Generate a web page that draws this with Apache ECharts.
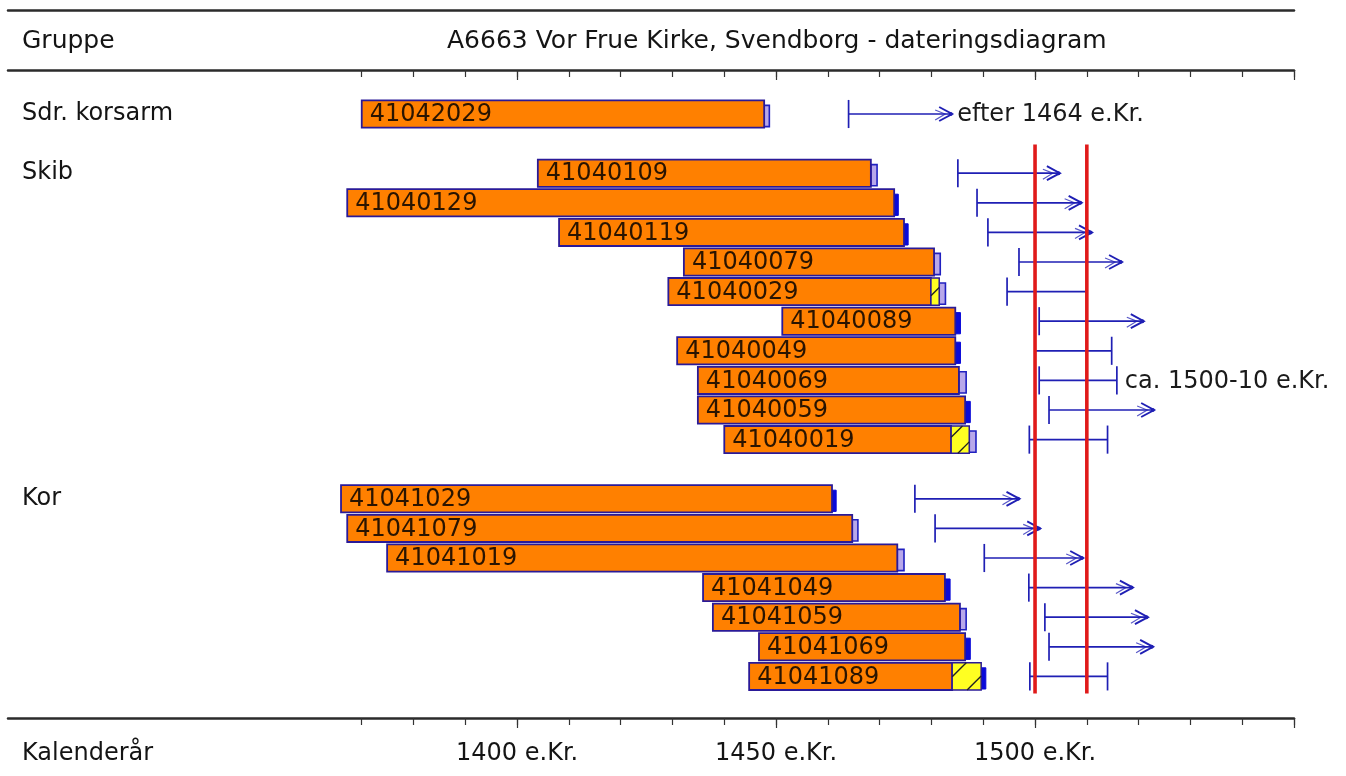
<!DOCTYPE html>
<html>
<head>
<meta charset="utf-8">
<script src="https://cdn.jsdelivr.net/npm/echarts@6/dist/echarts.min.js"></script>
<style>html,body{margin:0;padding:0;background:#fff;}#c{width:1346px;height:776px;}</style>
</head>
<body>
<div id="c"></div>
<script>
// ---- data ----
const rowLabels = ['Sdr. korsarm', '', 'Skib', '', '', '', '', '', '', '', '', '', '', 'Kor', '', '', '', '', '', ''];
const sampleIds = ['41042029', '41040109', '41040129', '41040119', '41040079', '41040029', '41040089', '41040049', '41040069', '41040059', '41040019', '41041029', '41041079', '41041019', '41041049', '41041059', '41041069', '41041089'];
const sampleRows = [0, 2, 3, 4, 5, 6, 7, 8, 9, 10, 11, 13, 14, 15, 16, 17, 18, 19];
const startYears = [1370, 1404, 1367.2, 1408.1, 1432.2, 1429.2, 1451.2, 1430.9, 1434.9, 1434.9, 1440, 1366, 1367.2, 1374.9, 1435.9, 1437.8, 1446.7, 1444.8];
const heartEnd = [1447.7, 1468.3, 1472.8, 1474.7, 1480.5, 1479.9, 1484.6, 1484.6, 1485.3, 1486.5, 1483.8, 1460.8, 1464.7, 1473.4, 1482.6, 1485.5, 1486.5, 1484];
const hatchEnd = [null, null, null, null, null, 1481.5, null, null, null, null, 1487.3, null, null, null, null, null, null, 1489.6];
const capEnd = [1448.7, 1469.5, 1473.6, 1475.5, 1481.7, 1482.7, 1485.6, 1485.6, 1486.7, 1487.5, 1488.6, 1461.6, 1465.8, 1474.7, 1483.6, 1486.7, 1487.5, 1490.5];
const capFilled = [0, 0, 1, 1, 0, 0, 1, 1, 0, 1, 0, 1, 0, 0, 1, 0, 1, 1];
const rangeStart = [1464, 1485.1, 1488.8, 1490.9, 1496.9, 1494.6, 1500.8, 1500, 1500.8, 1502.7, 1498.9, 1476.8, 1480.7, 1490.2, 1498.8, 1501.9, 1502.7, 1499];
const rangeEnd = [1484, 1504.8, 1509, 1511, 1516.8, 1510, 1521, 1514.8, 1515.8, 1523, 1514, 1497, 1501, 1509.3, 1518.9, 1521.8, 1522.8, 1514];
const rangeIsArrow = [1, 1, 1, 1, 1, 0, 1, 0, 0, 1, 0, 1, 1, 1, 1, 1, 1, 0];
const rangeNotes = ['efter 1464 e.Kr.', '', '', '', '', '', '', '', 'ca. 1500-10 e.Kr.', '', '', '', '', '', '', '', '', ''];
const redLines = [1500, 1510];
const redLineFromRow = 1;
const tickYears = [1370, 1380, 1390, 1400, 1410, 1420, 1430, 1440, 1450, 1460, 1470, 1480, 1490, 1500, 1510, 1520, 1530, 1540, 1550];
const majorTickYears = [1400, 1450, 1500, 1550];
const labelYears = [1400, 1450, 1500];
const titleText = 'A6663 Vor Frue Kirke, Svendborg - dateringsdiagram';

// ---- styles ----
const FONT = 'DejaVu Sans';
const ORANGE = '#FF8000';
const BORDER = '#2a1a98';
const BLUE = '#1f1fb4';
const CAPBLUE = '#0a0ad8';
const RED = '#e01a1a';

const barData = sampleIds.map((id, i) => [sampleRows[i], startYears[i], heartEnd[i], hatchEnd[i] || heartEnd[i], capEnd[i], capFilled[i]]);
const rangeData = sampleIds.map((id, i) => [sampleRows[i], rangeStart[i], rangeEnd[i], rangeIsArrow[i]]);
const redData = redLines.map(v => [v, redLineFromRow]);

function renderBar(params, api) {
  const row = api.value(0), s = api.value(1), he = api.value(2), hz = api.value(3), ce = api.value(4), filled = api.value(5);
  const bandH = api.size([0, 1])[1];
  const h = bandH * 0.92;
  const p0 = api.coord([s, row]);
  const xHe = api.coord([he, row])[0];
  const xHz = api.coord([hz, row])[0];
  const xCe = api.coord([ce, row])[0];
  const top = p0[1] - h / 2, bottom = p0[1] + h / 2;
  const children = [];
  children.push({
    type: 'rect',
    shape: { x: xHz, y: top + 5, width: Math.max(xCe - xHz, 2), height: h - 6 },
    style: filled ? { fill: CAPBLUE, stroke: CAPBLUE, lineWidth: 1 } : { fill: '#b8a8ea', stroke: '#2020c0', lineWidth: 1.6 }
  });
  children.push({
    type: 'rect',
    shape: { x: p0[0], y: top, width: xHe - p0[0], height: h },
    style: { fill: ORANGE, stroke: BORDER, lineWidth: 1.8 }
  });
  if (xHz - xHe > 0.5) {
    const w = xHz - xHe;
    children.push({
      type: 'rect',
      shape: { x: xHe, y: top, width: w, height: h },
      style: { fill: '#ffff22', stroke: BORDER, lineWidth: 1.5 }
    });
    const tot = w + h;
    const n = Math.max(1, Math.round(tot / 28));
    for (let k = 0; k < n; k++) {
      const c = (k + 0.5) * tot / n;
      const pA = c <= h ? [xHe, top + c] : [xHe + c - h, bottom];
      const pB = c <= w ? [xHe + c, top] : [xHz, top + c - w];
      children.push({ type: 'line', shape: { x1: pA[0], y1: pA[1], x2: pB[0], y2: pB[1] }, style: { stroke: '#222', lineWidth: 1.4 } });
    }
  }
  children.push({
    type: 'text',
    style: { text: sampleIds[params.dataIndex], x: p0[0] + 8, y: p0[1] + 1, verticalAlign: 'middle', align: 'left', font: '24px "' + FONT + '"', fill: '#2a1400' }
  });
  return { type: 'group', children };
}

function renderRange(params, api) {
  const row = api.value(0), rs = api.value(1), re = api.value(2), isArrow = api.value(3);
  const bandH = api.size([0, 1])[1];
  const a = api.coord([rs, row]);
  const b = api.coord([re, row]);
  const th = bandH * 0.95;
  const st = { stroke: BLUE, lineWidth: 1.7 };
  const children = [
    { type: 'line', shape: { x1: a[0], y1: a[1], x2: b[0], y2: b[1] }, style: st },
    { type: 'line', shape: { x1: a[0], y1: a[1] - th / 2, x2: a[0], y2: a[1] + th / 2 }, style: st }
  ];
  if (isArrow) {
    children.push({ type: 'polyline', shape: { points: [[b[0] - 13, b[1] - 7], [b[0], b[1]], [b[0] - 13, b[1] + 7]] }, style: { stroke: BLUE, lineWidth: 1.9, fill: null } });
    children.push({ type: 'polyline', shape: { points: [[b[0] - 17, b[1] - 4], [b[0] - 7, b[1]], [b[0] - 17, b[1] + 6]] }, style: { stroke: BLUE, lineWidth: 1.2, fill: null, opacity: 0.75 } });
    children.push({ type: 'circle', shape: { cx: b[0] - 1.5, cy: b[1], r: 2 }, style: { fill: BLUE } });
  } else {
    children.push({ type: 'line', shape: { x1: b[0], y1: b[1] - th / 2, x2: b[0], y2: b[1] + th / 2 }, style: st });
  }
  const note = rangeNotes[params.dataIndex];
  if (note) {
    children.push({ type: 'text', style: { text: note, x: b[0] + (isArrow ? 5 : 8), y: b[1] + 1, verticalAlign: 'middle', align: 'left', font: '24px "' + FONT + '"', fill: '#1a1a1a' } });
  }
  return { type: 'group', children };
}

function renderRed(params, api) {
  const x = api.value(0), r0 = api.value(1);
  const bandH = api.size([0, 1])[1];
  const p0 = api.coord([x, r0]);
  const p1 = api.coord([x, rowLabels.length - 1]);
  return { type: 'line', shape: { x1: p0[0], y1: p0[1] + 1, x2: p1[0], y2: p1[1] + bandH * 0.58 }, style: { stroke: RED, lineWidth: 3.6 } };
}

const gridTop = 99.2, gridH = 592;
const ruleColor = '#2b2b2b';
function xAx(opts) {
  return Object.assign({
    type: 'value', min: 1301.7, max: 1550, gridIndex: 0,
    splitLine: { show: false },
    axisLine: { show: false },
    axisTick: { show: false },
    axisLabel: { show: false }
  }, opts);
}

const option = {
  animation: false,
  backgroundColor: '#fff',
  title: [
    { text: titleText, left: 447, top: 29, padding: 0, textStyle: { fontFamily: FONT, fontSize: 25, fontWeight: 'normal', color: '#141414' } },
    { text: 'Gruppe', left: 22, top: 29, padding: 0, textStyle: { fontFamily: FONT, fontSize: 25, fontWeight: 'normal', color: '#141414' } },
    { text: 'Kalenderår', left: 22, top: 742, padding: 0, textStyle: { fontFamily: FONT, fontSize: 24, fontWeight: 'normal', color: '#141414' } }
  ],
  grid: { left: 8, width: 1286, top: gridTop, height: gridH },
  xAxis: [
    xAx({ position: 'bottom', offset: 718 - (gridTop + gridH),
      axisLine: { show: true, lineStyle: { color: ruleColor, width: 2.5 } },
      axisTick: { show: true, customValues: tickYears, length: 7, lineStyle: { color: '#333', width: 1.2 } },
      axisLabel: { show: true, customValues: labelYears, margin: 24, formatter: v => v + ' e.Kr.', fontFamily: FONT, fontSize: 24, color: '#141414' } }),
    xAx({ position: 'bottom', offset: 718 - (gridTop + gridH),
      axisTick: { show: true, customValues: majorTickYears, length: 10, lineStyle: { color: '#333', width: 1.2 } } }),
    xAx({ position: 'top', offset: gridTop - 70,
      axisLine: { show: true, lineStyle: { color: ruleColor, width: 2.5 } },
      axisTick: { show: true, inside: true, customValues: tickYears, length: 7, lineStyle: { color: '#333', width: 1.2 } } }),
    xAx({ position: 'top', offset: gridTop - 70,
      axisTick: { show: true, inside: true, customValues: majorTickYears, length: 10, lineStyle: { color: '#333', width: 1.2 } } }),
    xAx({ position: 'top', offset: gridTop - 10,
      axisLine: { show: true, lineStyle: { color: ruleColor, width: 2.5 } } })
  ],
  yAxis: {
    type: 'category', inverse: true, data: rowLabels.map((l, i) => String(i)),
    axisLine: { show: false }, axisTick: { show: false }, splitLine: { show: false },
    axisLabel: { inside: true, margin: 14, interval: 0, formatter: (v, i) => rowLabels[i], fontFamily: FONT, fontSize: 24, color: '#141414', align: 'left' }
  },
  series: [
    { type: 'custom', renderItem: renderBar, data: barData, encode: { x: [1, 2, 3, 4], y: 0 }, xAxisIndex: 0, yAxisIndex: 0, clip: false, z: 2 },
    { type: 'custom', renderItem: renderRange, data: rangeData, encode: { x: [1, 2], y: 0 }, xAxisIndex: 0, yAxisIndex: 0, clip: false, z: 3 },
    { type: 'custom', renderItem: renderRed, data: redData, encode: { x: 0, y: 1 }, xAxisIndex: 0, yAxisIndex: 0, clip: false, z: 4 }
  ]
};

const chart = echarts.init(document.getElementById('c'), null, { renderer: 'canvas' });
chart.setOption(option);
</script>
</body>
</html>
